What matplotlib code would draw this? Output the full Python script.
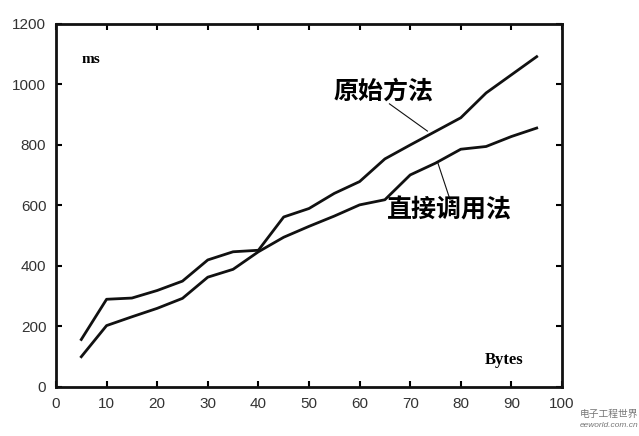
import matplotlib.pyplot as plt

# дані
sizes = [5, 10, 15, 20, 25, 30, 35, 40, 45, 50, 55, 60, 65, 70, 75, 80, 85, 90, 95]
original_ms = [157, 290, 294, 319, 350, 420, 447, 452, 562, 590, 640, 679, 754, 800, 845, 890, 972, 1032, 1092]
direct_ms = [100, 203, 232, 260, 293, 363, 389, 447, 495, 531, 565, 602, 619, 701, 740, 786, 795, 828, 856]

label_original = '原始方法'
label_direct = '直接调用法'
xticks = list(range(0, 101, 10))
yticks = list(range(0, 1201, 200))

plt.rcParams['font.family'] = ['Liberation Sans', 'DejaVu Sans']

fig = plt.figure(figsize=(6.39, 4.36), dpi=100)
ax = fig.add_axes([0.0876, 0.1124, 0.7919, 0.8326])

ax.plot(sizes, original_ms, color='#111111', lw=2.0)
ax.plot(sizes, direct_ms, color='#111111', lw=2.0)

ax.set_xlim(0, 100)
ax.set_ylim(0, 1200)
ax.set_xticks(xticks)
ax.set_yticks(yticks)
ax.tick_params(direction='in', top=True, right=True, length=4, width=1.5,
               labelsize=11, labelcolor='#333333', pad=7)
for s in ax.spines.values():
    s.set_linewidth(2)
    s.set_color('#111111')

# підписи осей всередині графіка
ax.text(5.0, 1083, 'ms', fontsize=11, fontweight='bold', family='Liberation Serif', va='center')
ax.text(88.5, 90, 'Bytes', fontsize=12, fontweight='bold', family='Liberation Serif', va='center', ha='center')

# назви кривих з виносками
cjk = ['Noto Sans CJK SC', 'DejaVu Sans']
ax.text(54.8, 975, label_original, fontsize=18, fontweight='bold', family=cjk, va='center')
ax.plot([65.9, 73.4], [936, 846], color='#111111', lw=0.8)
ax.text(65.5, 582, label_direct, fontsize=18, fontweight='bold', family=cjk, va='center')
ax.plot([75.5, 77.9], [739, 618], color='#111111', lw=0.8)

# водяний знак
fig.text(0.953, 0.05, '电子工程世界', fontsize=7, color='#777777', family=cjk, ha='center', va='center')
fig.text(0.953, 0.025, 'eeworld.com.cn', fontsize=6, style='italic', color='#777777', ha='center', va='center')

fig.savefig('out.png', dpi=100, facecolor='white')
